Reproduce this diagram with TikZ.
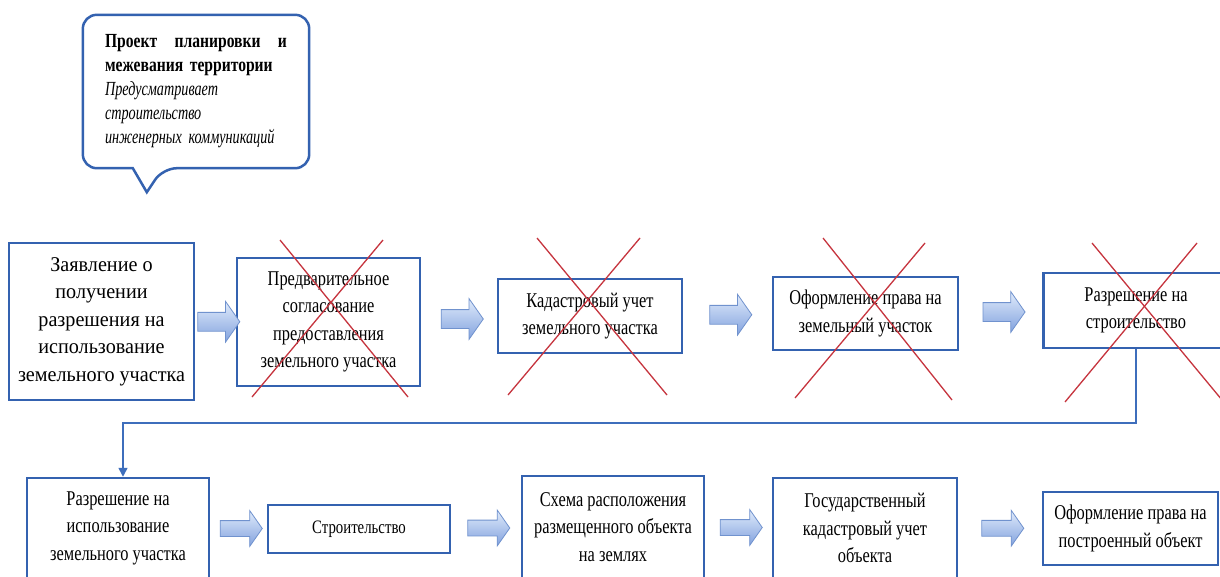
\documentclass[tikz,border=0pt]{standalone}
\usepackage{fontspec}
\setmainfont{Liberation Serif}
\newfontfamily\boxfont[FakeStretch=0.78]{Liberation Serif}
\newfontfamily\wideboxfont[FakeStretch=0.96]{Liberation Serif}
\newfontfamily\itnotefont[FakeStretch=0.71]{Liberation Serif}
\usetikzlibrary{shapes.arrows,arrows.meta,calc}

\definecolor{boxblue}{RGB}{52,98,176}
\definecolor{arrline}{RGB}{112,146,206}
\definecolor{arrtop}{RGB}{224,235,251}
\definecolor{arrbot}{RGB}{130,162,222}
\definecolor{crossred}{RGB}{198,52,62}
\definecolor{connblue}{RGB}{62,110,188}

\tikzset{
	stage/.style = {draw = boxblue, line width = 2.5pt, fill = white, align = center, inner sep = 2pt,
		font = \boxfont\fontsize{21}{27.5}\selectfont},
	blockarr/.style = {single arrow, draw = arrline, line width = 0.8pt, top color = arrtop, bottom color = arrbot,
		minimum height = 42pt, inner sep = 9pt, single arrow head extend = 11pt, single arrow tip angle = 110},
	smallarr/.style = {blockarr, inner sep = 7.5pt, single arrow head extend = 10pt},
	cross/.style = {draw = crossred, line width = 1.3pt},
	conn/.style = {draw = connblue, line width = 1.6pt, -{Triangle[width = 9pt, length = 9pt]}},
	notebox/.style = {draw = boxblue, line width = 2.5pt},
}

\begin{document}
\begin{tikzpicture}[x = 1pt, y = -1pt]
	 \path[use as bounding box, clip] (0, 0) rectangle (1220, 576);
	 \fill[white] (0, 0) rectangle (1220, 576);

	 % callout
	 \node[minimum width = 226, minimum height = 153, text width = 182, align = left, inner sep = 0,
	 	font = \boxfont\fontsize{20}{24}\selectfont] (proekt) at (196, 91.5)
	 	{\textbf{\hbox to 182pt{Проект\hfill планировки\hfill и}}\\
	 	 \textbf{межевания территории}\\
	 	 {\itnotefont\itshape Предусматривает}\\
	 	 {\itnotefont\itshape строительство}\\
	 	 {\itnotefont\itshape\mbox{инженерных коммуникаций}}};
	 \draw[notebox] ($(proekt.south west) + (50, 0)$) [rounded corners = 14pt] -- (proekt.south west)
	 	-- (proekt.north west) -- (proekt.north east) -- (proekt.south east)
	 	-- ($(proekt.south west) + (80, 0)$) [sharp corners] -- ($(proekt.south west) + (64, 24)$) -- cycle;

	 % first row
	 \node[stage, minimum width = 185, minimum height = 157, font = \wideboxfont\fontsize{21}{27.5}\selectfont]
	 	(zayav) at (101.5, 321.5)
	 	{Заявление о\\получении\\разрешения на\\использование\\земельного участка};
	 \node[stage, minimum width = 183, minimum height = 128] (predv) at (328.5, 322)
	 	{Предварительное\\согласование\\предоставления\\земельного участка};
	 \node[stage, minimum width = 184, minimum height = 74] (kaduch) at (590, 316)
	 	{Кадастровый учет\\земельного участка};
	 \node[stage, minimum width = 185, minimum height = 73] (pravo) at (865.5, 313.5)
	 	{Оформление права на\\земельный участок};
	 \node[stage, minimum width = 185, minimum height = 75] (razstr) at (1136, 310.5)
	 	{Разрешение на\\строительство};

	 \node[blockarr] (ar1) at ($(zayav.east)!0.5!(predv.west)$) {};
	 \node[blockarr] (ar2) at ($(predv.east)!0.5!(kaduch.west)$) {};
	 \node[blockarr] (ar3) at ($(kaduch.east)!0.5!(pravo.west)$) {};
	 \node[blockarr] (ar4) at ($(pravo.east)!0.5!(razstr.west)$) {};

	 % crossed out
	 \draw[cross] (280, 240) -- (408, 397);
	 \draw[cross] (383, 240) -- (252, 397);
	 \draw[cross] (537, 238) -- (667, 395);
	 \draw[cross] (640, 238) -- (508, 395);
	 \draw[cross] (823, 238) -- (952, 400);
	 \draw[cross] (925, 243) -- (795, 398);
	 \draw[cross] (1092, 243) -- (1222, 400);
	 \draw[cross] (1197, 243) -- (1065, 402);

	 % second row
	 \node[stage, minimum width = 182, minimum height = 100] (razisp) at (118, 528)
	 	{Разрешение на\\использование\\земельного участка};
	 \node[stage, minimum width = 182, minimum height = 48, font = \boxfont\fontsize{19}{27.5}\selectfont]
	 	(stroit) at (359, 529) {Строительство};
	 \node[stage, minimum width = 182, minimum height = 102] (shema) at (613, 527)
	 	{Схема расположения\\размещенного объекта\\на землях};
	 \node[stage, minimum width = 184, minimum height = 100] (gosuch) at (865, 528)
	 	{Государственный\\кадастровый учет\\объекта};
	 \node[stage, minimum width = 175, minimum height = 73] (pravobj) at (1130.5, 528.5)
	 	{Оформление права на\\построенный объект};

	 \node[smallarr] (br1) at ($(razisp.east)!0.5!(stroit.west)$) {};
	 \node[smallarr] (br2) at ($(stroit.east)!0.5!(shema.west)$) {};
	 \node[smallarr] (br3) at ($(shema.east)!0.5!(gosuch.west)$) {};
	 \node[smallarr] (br4) at ($(gosuch.east)!0.5!(pravobj.west)$) {};

	 \coordinate (bend) at (123, 423);
	 \draw[conn] (razstr.south) |- (bend) -- (bend |- razisp.north);
\end{tikzpicture}
\end{document}
